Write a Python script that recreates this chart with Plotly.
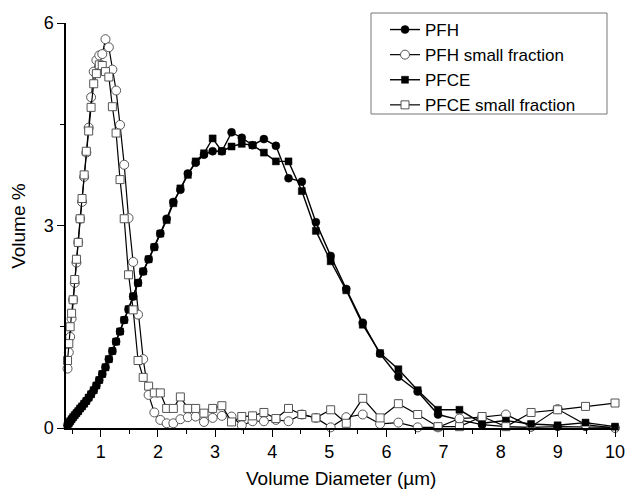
import plotly.graph_objects as go

# Volume diameter grid (µm)
diameter = [0.417, 0.439, 0.463, 0.488, 0.515, 0.543, 0.573, 0.604, 0.637, 0.671,
            0.708, 0.746, 0.787, 0.829, 0.875, 0.922, 0.972, 1.025, 1.081, 1.140,
            1.202, 1.267, 1.336, 1.409, 1.485, 1.566, 1.651, 1.741, 1.836, 1.936,
            2.041, 2.152, 2.269, 2.392, 2.523, 2.660, 2.805, 2.957, 3.118, 3.288,
            3.467, 3.655, 3.854, 4.064, 4.285, 4.518, 4.764, 5.023, 5.296, 5.584,
            5.888, 6.208, 6.546, 6.902, 7.277, 7.673, 8.091, 8.531, 8.995, 9.484, 10.0]

pfh = [0.04, 0.07, 0.10, 0.13, 0.16, 0.19, 0.22, 0.25, 0.29, 0.32,
       0.36, 0.40, 0.45, 0.50, 0.56, 0.63, 0.71, 0.80, 0.90, 1.02,
       1.14, 1.28, 1.43, 1.60, 1.76, 1.95, 2.15, 2.32, 2.50, 2.68,
       2.88, 3.10, 3.35, 3.53, 3.77, 3.93, 4.05, 4.10, 4.10, 4.38,
       4.30, 4.19, 4.28, 4.18, 3.70, 3.65, 3.05, 2.55, 2.06, 1.56,
       1.10, 0.76, 0.54, 0.20, 0.12, 0.05, 0.02, 0.01, 0.02, 0.02, 0.01]

pfh_small = [0.88, 1.12, 1.35, 1.62, 1.90, 2.15, 2.45, 2.75, 3.10, 3.35,
             3.72, 4.08, 4.45, 4.90, 5.28, 5.45, 5.52, 5.54, 5.76, 5.64,
             5.31, 5.00, 4.49, 3.90, 3.11, 2.46, 1.68, 1.02, 0.49, 0.23,
             0.12, 0.07, 0.07, 0.13, 0.16, 0.17, 0.09, 0.15, 0.18, 0.17,
             0.04, 0.10, 0.10, 0.12, 0.10, 0.20, 0.15, 0.01, 0.16, 0.20,
             0.06, 0.08, 0.01, 0.01, 0.14, 0.16, 0.20, 0.02, 0.28, 0.05, 0.00]

pfce = [0.04, 0.07, 0.10, 0.13, 0.16, 0.19, 0.22, 0.25, 0.29, 0.32,
        0.36, 0.40, 0.45, 0.50, 0.56, 0.63, 0.71, 0.80, 0.90, 1.02,
        1.14, 1.28, 1.43, 1.60, 1.76, 1.95, 2.15, 2.32, 2.50, 2.68,
        2.88, 3.08, 3.33, 3.55, 3.75, 3.95, 4.07, 4.29, 4.10, 4.17,
        4.21, 4.19, 4.08, 3.95, 3.95, 3.51, 2.92, 2.47, 2.04, 1.53,
        1.11, 0.87, 0.56, 0.27, 0.27, 0.07, 0.11, 0.06, 0.04, 0.08, 0.02]

pfce_small = [1.00, 1.25, 1.50, 1.70, 1.90, 2.20, 2.50, 2.75, 3.10, 3.40,
              3.75, 4.10, 4.40, 4.75, 5.10, 5.25, 5.38, 5.37, 5.28, 5.20,
              4.76, 4.37, 3.68, 3.10, 2.27, 1.75, 1.00, 0.75, 0.62, 0.52,
              0.52, 0.29, 0.29, 0.46, 0.29, 0.29, 0.22, 0.29, 0.33, 0.09,
              0.17, 0.18, 0.23, 0.14, 0.29, 0.20, 0.15, 0.27, 0.07, 0.44,
              0.15, 0.36, 0.20, 0.02, 0.02, 0.17, 0.02, 0.23, 0.27, 0.32, 0.37]

x_ticks = [1, 2, 3, 4, 5, 6, 7, 8, 9, 10]
y_ticks = [0, 3, 6]

FONT = "Liberation Sans, Arial, sans-serif"

# plot area in pixels: x 66..615, y 23..428
PL, PR, PT, PB = 66, 615, 23, 428
PW, PH = PR - PL, PB - PT

def px_x(p):
    return (p - PL) / PW

def px_y(p):
    return (PB - p) / PH

fig = go.Figure()
fig.add_trace(go.Scatter(
    x=diameter, y=pfh, name="PFH", mode="lines+markers", cliponaxis=False,
    line=dict(color="black", width=1.4),
    marker=dict(symbol="circle", size=8, color="black", line=dict(color="black", width=0.5))))
fig.add_trace(go.Scatter(
    x=diameter, y=pfh_small, name="PFH small fraction", mode="lines+markers", cliponaxis=False,
    line=dict(color="black", width=1.2),
    marker=dict(symbol="circle", size=9, color="white", line=dict(color="#555555", width=1))))
fig.add_trace(go.Scatter(
    x=diameter, y=pfce, name="PFCE", mode="lines+markers", cliponaxis=False,
    line=dict(color="black", width=1.4),
    marker=dict(symbol="square", size=7, color="black", line=dict(color="black", width=0.5))))
fig.add_trace(go.Scatter(
    x=diameter, y=pfce_small, name="PFCE small fraction", mode="lines+markers", cliponaxis=False,
    line=dict(color="black", width=1.2),
    marker=dict(symbol="square", size=8, color="white", line=dict(color="#555555", width=1))))

fig.update_layout(
    width=629, height=491,
    margin=dict(l=PL, r=629 - PR, t=PT, b=491 - PB, autoexpand=False),
    paper_bgcolor="white", plot_bgcolor="white",
    font=dict(family=FONT, size=18, color="black"),
    showlegend=True,
    legend=dict(x=px_x(385), y=px_y(12), xanchor="left", yanchor="top",
                bgcolor="rgba(0,0,0,0)", borderwidth=0,
                font=dict(family=FONT, size=17, color="black"),
                tracegroupgap=0, itemwidth=30),
    shapes=[dict(type="rect", xref="paper", yref="paper",
                 x0=px_x(371), x1=px_x(607), y0=px_y(114), y1=px_y(13),
                 line=dict(color="#777777", width=1), fillcolor="white", layer="below")],
    annotations=[
        dict(text="Volume Diameter (µm)", xref="paper", yref="paper", x=0.5, y=-0.095,
             xanchor="center", yanchor="top", showarrow=False,
             font=dict(family=FONT, size=19, color="black")),
        dict(text="Volume %", xref="paper", yref="paper", x=-0.064, y=0.5,
             xanchor="right", yanchor="middle", textangle=-90, showarrow=False,
             font=dict(family=FONT, size=19, color="black")),
    ],
)
fig.update_xaxes(
    range=[0.39, 10], tickvals=x_ticks, ticktext=[str(v) for v in x_ticks],
    ticks="outside", ticklen=7, tickwidth=1.2, tickcolor="black",
    showline=True, linecolor="black", linewidth=1.5, showgrid=False, zeroline=False,
    minor=dict(ticks="outside", ticklen=4, tickwidth=1.2, tickcolor="black", dtick=0.5, tick0=0),
    automargin=False,
    tickfont=dict(family=FONT, size=18),
)
fig.update_yaxes(
    range=[0, 6], tickvals=y_ticks, ticktext=[str(v) for v in y_ticks],
    ticks="outside", ticklen=7, tickwidth=1.2, tickcolor="black",
    showline=True, linecolor="black", linewidth=1.5, showgrid=False, zeroline=False,
    minor=dict(ticks="outside", ticklen=4, tickwidth=1.2, tickcolor="black", dtick=1.5, tick0=0),
    automargin=False,
    tickfont=dict(family=FONT, size=18),
)

fig.write_html("out.html")
